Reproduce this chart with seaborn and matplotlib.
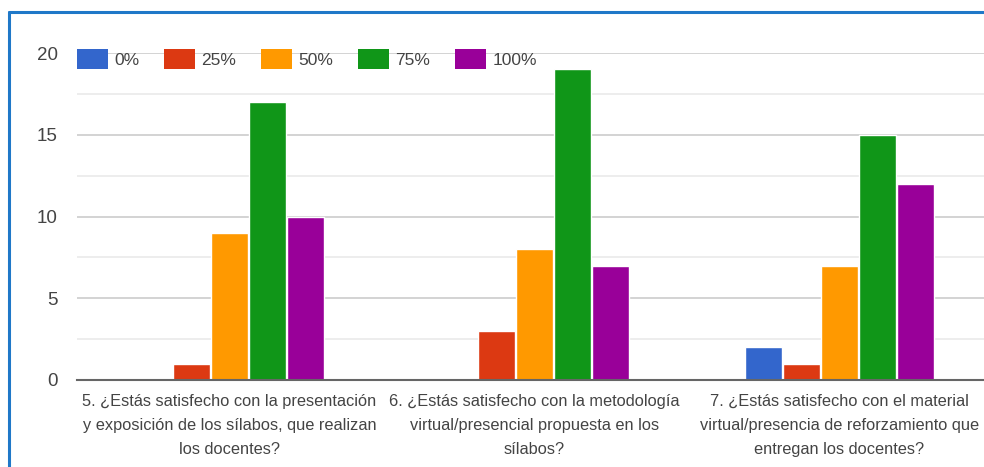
import pandas as pd
import matplotlib
matplotlib.use("Agg")
import matplotlib.pyplot as plt
from matplotlib.lines import Line2D
from matplotlib.patches import Patch
import seaborn as sns

# ---------------- DATA ----------------
questions = [
    "5. ¿Estás satisfecho con la presentación\ny exposición de los sílabos, que realizan\nlos docentes?",
    "6. ¿Estás satisfecho con la metodología\nvirtual/presencial propuesta en los\nsílabos?",
    "7. ¿Estás satisfecho con el material\nvirtual/presencia de reforzamiento que\nentregan los docentes?",
]
levels = ["0%", "25%", "50%", "75%", "100%"]
counts_0 = [0, 0, 2]
counts_25 = [1, 3, 1]
counts_50 = [9, 8, 7]
counts_75 = [17, 19, 15]
counts_100 = [10, 7, 12]
colors = ["#3366cc", "#dc3912", "#ff9900", "#109618", "#990099"]

rows = []
for lvl, vals in zip(levels, [counts_0, counts_25, counts_50, counts_75, counts_100]):
    for q, v in zip(questions, vals):
        rows.append({"pregunta": q, "nivel": lvl, "n": v})
df = pd.DataFrame(rows)

# ---------------- STYLE ----------------
sns.set_style("white")
plt.rcParams['font.family'] = ['Liberation Sans', 'DejaVu Sans']
txt = "#444444"

W, H = 984, 467
fig = plt.figure(figsize=(W / 100, H / 100), dpi=100)
ax = fig.add_axes([77 / W, (H - 380) / H, (992 - 77) / W, 327 / H])

sns.barplot(data=df, x="pregunta", y="n", hue="nivel",
            order=questions, hue_order=levels, palette=colors, saturation=1,
            width=0.623, gap=0.03, ax=ax, legend=False, zorder=3)

ax.set_ylim(0, 20)
ax.set_yticks([0, 5, 10, 15, 20])
ax.set_yticks([2.5, 7.5, 12.5, 17.5], minor=True)
ax.grid(axis="y", which="major", color="#d0d0d0", lw=1.3, zorder=0)
ax.grid(axis="y", which="minor", color="#ececec", lw=1.3, zorder=0)
ax.grid(axis="x", visible=False)
for s in ["top", "right", "left"]:
    ax.spines[s].set_visible(False)
ax.spines["bottom"].set_color("#666666")
ax.spines["bottom"].set_linewidth(1.5)
ax.spines["bottom"].set_zorder(4)

ax.set_xlabel("")
ax.set_ylabel("")
ax.tick_params(axis="y", which="both", length=0, pad=14, labelsize=13.5, labelcolor=txt)
ax.tick_params(axis="x", length=0, pad=10, labelsize=11.8, labelcolor=txt)
for lab in ax.get_xticklabels():
    lab.set_linespacing(1.76)

handles = [Patch(facecolor=c, edgecolor="none") for c in colors]
fig.legend(handles, levels, loc="center left", bbox_to_anchor=(77 / W, 1 - 59 / H),
           ncol=5, frameon=False, fontsize=12.5, labelcolor=txt,
           handlelength=1.78, handleheight=1.39, handletextpad=0.35,
           columnspacing=1.45, borderpad=0, borderaxespad=0)

# blue frame (top and left edges visible)
fig.add_artist(Line2D([9 / W, 1], [1 - 12 / H, 1 - 12 / H], color="#1f78c8", lw=2.2))
fig.add_artist(Line2D([9 / W, 9 / W], [0, 1 - 12 / H], color="#1f78c8", lw=2.2))

fig.savefig("out.png", dpi=100)
